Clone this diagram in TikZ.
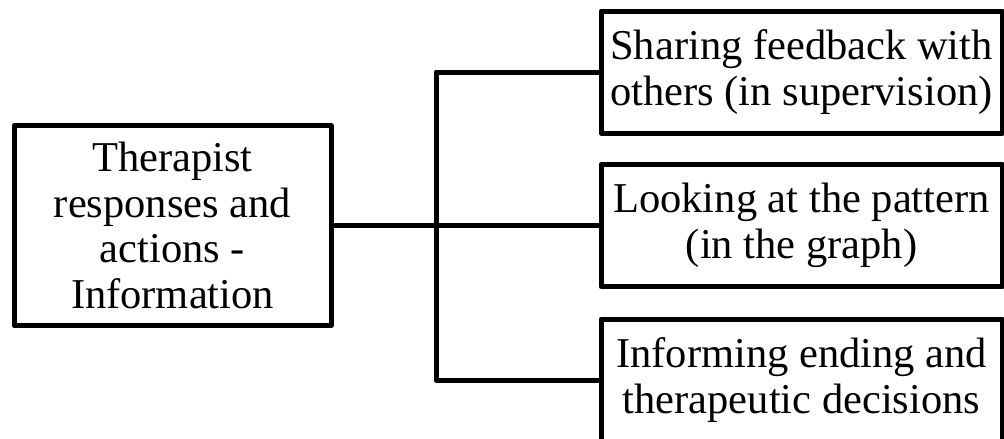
\documentclass[tikz,border=0pt]{standalone}
\usepackage{fontspec}
\setmainfont{Liberation Serif}
\begin{document}
\begin{tikzpicture}[x=1pt,y=-1pt,
  box/.style={draw=black, line width=5pt, fill=white, rectangle, inner sep=0pt,
    align=center, font=\fontsize{42.5}{45.5}\selectfont, line join=round},
  wire/.style={draw=black, line width=5pt, line join=round}]
  \useasboundingbox (0,0) rectangle (1004,439);
  \clip (0,0) rectangle (1004,439);
  % root node
  \node[box, minimum width=317pt, minimum height=200pt] (root) at (172.5,225.5)
    {Therapist\\responses and\\actions -\\Information};
  % branch nodes
  \node[box, minimum width=401pt, minimum height=122pt] (share) at (801.5,72)
    {Sharing feedback with\\others (in supervision)};
  \node[box, minimum width=401pt, minimum height=122pt] (look) at (801.5,225.5)
    {Looking at the pattern\\(in the graph)};
  \node[box, minimum width=401pt, minimum height=122pt] (inform) at (801.5,380)
    {Informing ending and\\therapeutic decisions};
  % junction on the vertical trunk
  \coordinate (junc) at (436,225.5);
  \draw[wire] (root.east) -- (look.west);
  \draw[wire] (share.west) -| (junc) |- (inform.west);
\end{tikzpicture}
\end{document}
